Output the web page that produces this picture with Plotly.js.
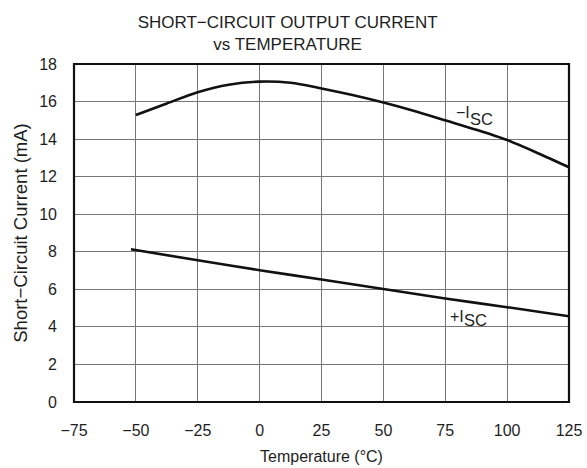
<!DOCTYPE html>
<html>
<head>
<meta charset="utf-8">
<script src="https://cdn.plot.ly/plotly-3.0.1.min.js"></script>
<style>html,body{margin:0;padding:0;background:#fff;}#chart{width:587px;height:468px;}</style>
</head>
<body>
<div id="chart"></div>
<script>
// Temperature (°C) sample points
const tempNeg = [-50, -37.5, -25, -12.5, 0, 12.5, 25, 37.5, 50, 62.5, 75, 87.5, 100, 112.5, 125];
// −ISC (mA)
const iscNeg = [15.28, 15.9, 16.5, 16.9, 17.06, 17.0, 16.7, 16.35, 15.95, 15.5, 15.0, 14.5, 13.95, 13.25, 12.5];
const tempPos = [-52, -25, 0, 25, 50, 75, 100, 125];
// +ISC (mA)
const iscPos = [8.13, 7.55, 7.02, 6.52, 6.02, 5.51, 5.05, 4.57];
const xTicks = [-75, -50, -25, 0, 25, 50, 75, 100, 125];
const yTicks = [0, 2, 4, 6, 8, 10, 12, 14, 16, 18];

const fam = 'Liberation Sans, Arial, sans-serif';
const txt = '#1e1e1e';
const traces = [
  {x: tempNeg, y: iscNeg, mode: 'lines', line: {color: '#111', width: 2.6, shape: 'spline', smoothing: 0.8}, hoverinfo: 'skip'},
  {x: tempPos, y: iscPos, mode: 'lines', line: {color: '#111', width: 2.6, shape: 'spline', smoothing: 0.5}, hoverinfo: 'skip'}
];
const layout = {
  width: 587, height: 468,
  margin: {l: 73.5, r: 18, t: 64, b: 66},
  paper_bgcolor: '#fff', plot_bgcolor: '#fff',
  showlegend: false,
  font: {family: fam, color: txt, size: 16},
  title: {text: 'SHORT−CIRCUIT OUTPUT CURRENT<br>vs TEMPERATURE', x: 0.49, xanchor: 'center', yref: 'container', y: 0.94, yanchor: 'top', font: {family: fam, size: 17, color: txt}},
  xaxis: {
    range: [-75, 125], tickvals: xTicks, ticktext: xTicks.map(v => v < 0 ? '−' + Math.abs(v) : String(v)),
    showgrid: true, gridcolor: '#777', gridwidth: 1, zeroline: false,
    showline: false,
    ticks: '', ticklabelstandoff: 17, tickfont: {size: 16},
    title: {text: 'Temperature (°C)', font: {size: 16}, standoff: 12}
  },
  yaxis: {
    range: [0, 18], tickvals: yTicks,
    showgrid: true, gridcolor: '#777', gridwidth: 1, zeroline: false,
    showline: false,
    ticks: '', ticklabelstandoff: 16, tickfont: {size: 16},
    title: {text: 'Short−Circuit Current (mA)', font: {size: 18.5}, standoff: 6}
  },
  shapes: [
    {type: 'rect', xref: 'paper', yref: 'paper', x0: 0, x1: 1, y0: 0, y1: 1, line: {color: '#111', width: 2.2}, fillcolor: 'rgba(0,0,0,0)', layer: 'above'}
  ],
  annotations: [
    {x: 85.6, y: 15.40, text: '−I', xanchor: 'right', showarrow: false, font: {size: 16, color: txt}, borderpad: 0},
    {x: 84.7, y: 15.08, text: 'SC', xanchor: 'left', showarrow: false, font: {size: 16.5, color: txt}, borderpad: 0},
    {x: 83.1, y: 4.55, text: '+I', xanchor: 'right', showarrow: false, font: {size: 16, color: txt}, borderpad: 0},
    {x: 82.3, y: 4.35, text: 'SC', xanchor: 'left', showarrow: false, font: {size: 16.5, color: txt}, borderpad: 0}
  ]
};
Plotly.newPlot('chart', traces, layout, {displayModeBar: false, staticPlot: true});
</script>
</body>
</html>
